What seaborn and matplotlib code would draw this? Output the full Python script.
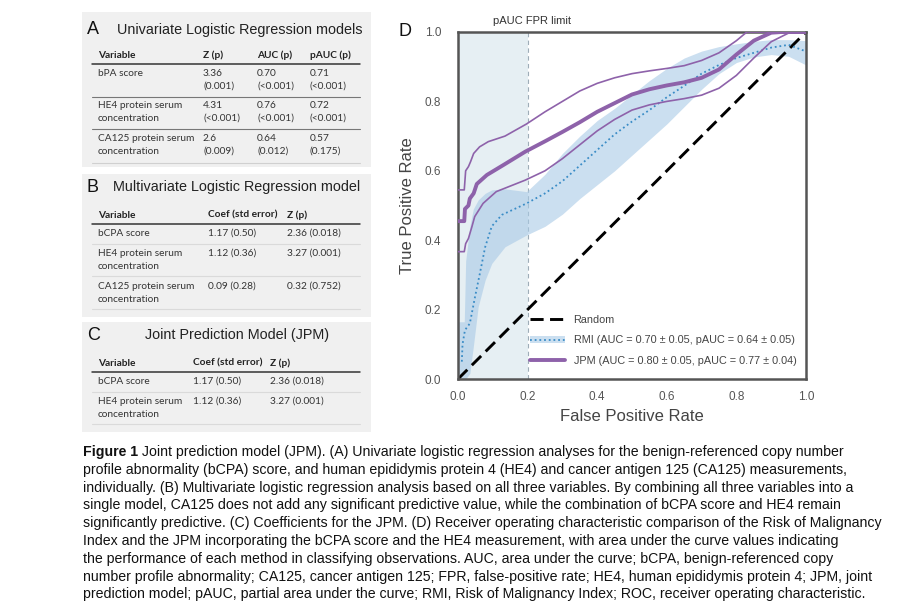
import matplotlib
matplotlib.use("Agg")
import matplotlib.pyplot as plt
from matplotlib.lines import Line2D
from matplotlib.patches import Patch, Rectangle
import seaborn as sns

# ---------------------------------------------------------------------------
# Data
# ---------------------------------------------------------------------------

# JPM mean ROC + its bounds
JPM_FPR = [0.0, 0.018, 0.02, 0.03, 0.034, 0.045, 0.054, 0.083, 0.131, 0.193, 0.25,
           0.3, 0.35, 0.4, 0.45, 0.5, 0.55, 0.6, 0.65, 0.7, 0.75, 0.8, 0.85, 0.9, 0.93, 1.0]
JPM_TPR = [0.455, 0.455, 0.49, 0.50, 0.52, 0.535, 0.562, 0.588, 0.617, 0.655, 0.685,
           0.712, 0.74, 0.77, 0.795, 0.82, 0.835, 0.846, 0.855, 0.868, 0.892, 0.935,
           0.975, 0.998, 1.0, 1.0]

JPM_HI_FPR = [0.0, 0.018, 0.022, 0.03, 0.036, 0.045, 0.062, 0.087, 0.135, 0.197, 0.25,
              0.3, 0.35, 0.4, 0.45, 0.5, 0.55, 0.6, 0.65, 0.7, 0.75, 0.8, 0.83, 1.0]
JPM_HI_TPR = [0.545, 0.545, 0.60, 0.612, 0.626, 0.65, 0.669, 0.684, 0.70, 0.735, 0.77,
              0.80, 0.83, 0.852, 0.868, 0.88, 0.888, 0.895, 0.903, 0.918, 0.94, 0.975,
              1.0, 1.0]

JPM_LO_FPR = [0.0, 0.018, 0.022, 0.03, 0.04, 0.048, 0.072, 0.11, 0.193, 0.25, 0.3,
              0.35, 0.4, 0.45, 0.5, 0.55, 0.6, 0.65, 0.7, 0.75, 0.8, 0.85, 0.9, 0.95, 1.0]
JPM_LO_TPR = [0.367, 0.367, 0.39, 0.405, 0.439, 0.468, 0.506, 0.54, 0.573, 0.60, 0.635,
              0.675, 0.715, 0.748, 0.775, 0.79, 0.80, 0.808, 0.818, 0.838, 0.875, 0.925,
              0.972, 0.997, 1.0]

# RMI mean ROC
RMI_FPR = [0.011, 0.013, 0.02, 0.034, 0.049, 0.063, 0.078, 0.097, 0.126, 0.197, 0.25,
           0.3, 0.35, 0.4, 0.45, 0.5, 0.55, 0.6, 0.65, 0.7, 0.75, 0.8, 0.85, 0.9, 0.95, 1.0]
RMI_TPR = [0.05, 0.10, 0.141, 0.16, 0.237, 0.305, 0.38, 0.44, 0.473, 0.506, 0.535,
           0.57, 0.615, 0.66, 0.705, 0.742, 0.775, 0.812, 0.845, 0.88, 0.905, 0.925,
           0.94, 0.955, 0.963, 0.944]

# RMI confidence band
BAND_FPR = [0.0, 0.018, 0.022, 0.034, 0.044, 0.058, 0.078, 0.097, 0.135, 0.197, 0.25,
            0.3, 0.35, 0.4, 0.45, 0.5, 0.55, 0.6, 0.65, 0.7, 0.75, 0.8, 0.85, 0.9, 0.95, 1.0]
BAND_HI = [0.165, 0.165, 0.34, 0.44, 0.49, 0.516, 0.535, 0.545, 0.548, 0.54, 0.59,
           0.65, 0.70, 0.745, 0.78, 0.82, 0.86, 0.895, 0.925, 0.945, 0.958, 0.966,
           0.973, 0.978, 0.978, 0.975]
BAND_LO = [0.0, 0.0, 0.0, 0.016, 0.093, 0.208, 0.285, 0.333, 0.381, 0.415, 0.44,
           0.475, 0.52, 0.56, 0.60, 0.645, 0.69, 0.735, 0.785, 0.835, 0.88, 0.912,
           0.928, 0.935, 0.93, 0.905]

RANDOM_FPR = [0.0, 1.0]
RANDOM_TPR = [0.0, 1.0]
PAUC_LIMIT = 0.2

LEGEND_LABELS = [
    "Random",
    "RMI (AUC = 0.70 \u00b1 0.05, pAUC = 0.64 \u00b1 0.05)",
    "JPM (AUC = 0.80 \u00b1 0.05, pAUC = 0.77 \u00b1 0.04)",
]

# Tables
TAB_A_TITLE = "Univariate Logistic Regression models"
TAB_A_HEADER = ["Variable", "Z (p)", "AUC (p)", "pAUC (p)"]
TAB_A_ROWS = [
    ["bPA score", "3.36\n(0.001)", "0.70\n(<0.001)", "0.71\n(<0.001)"],
    ["HE4 protein serum\nconcentration", "4.31\n(<0.001)", "0.76\n(<0.001)", "0.72\n(<0.001)"],
    ["CA125 protein serum\nconcentration", "2.6\n(0.009)", "0.64\n(0.012)", "0.57\n(0.175)"],
]

TAB_B_TITLE = "Multivariate Logistic Regression model"
TAB_B_HEADER = ["Variable", "Coef (std error)", "Z (p)"]
TAB_B_ROWS = [
    ["bCPA score", "1.17 (0.50)", "2.36 (0.018)"],
    ["HE4 protein serum\nconcentration", "1.12 (0.36)", "3.27 (0.001)"],
    ["CA125 protein serum\nconcentration", "0.09 (0.28)", "0.32 (0.752)"],
]

TAB_C_TITLE = "Joint Prediction Model (JPM)"
TAB_C_HEADER = ["Variable", "Coef (std error)", "Z (p)"]
TAB_C_ROWS = [
    ["bCPA score", "1.17 (0.50)", "2.36 (0.018)"],
    ["HE4 protein serum\nconcentration", "1.12 (0.36)", "3.27 (0.001)"],
]

CAPTION_LEAD = "Figure 1"
CAPTION_LINES = [
    " Joint prediction model (JPM). (A) Univariate logistic regression analyses for the benign-referenced copy number",
    "profile abnormality (bCPA) score, and human epididymis protein 4 (HE4) and cancer antigen 125 (CA125) measurements,",
    "individually. (B) Multivariate logistic regression analysis based on all three variables. By combining all three variables into a",
    "single model, CA125 does not add any significant predictive value, while the combination of bCPA score and HE4 remain",
    "significantly predictive. (C) Coefficients for the JPM. (D) Receiver operating characteristic comparison of the Risk of Malignancy",
    "Index and the JPM incorporating the bCPA score and the HE4 measurement, with area under the curve values indicating",
    "the performance of each method in classifying observations. AUC, area under the curve; bCPA, benign-referenced copy",
    "number profile abnormality; CA125, cancer antigen 125; FPR, false-positive rate; HE4, human epididymis protein 4; JPM, joint",
    "prediction model; pAUC, partial area under the curve; RMI, Risk of Malignancy Index; ROC, receiver operating characteristic.",
]

PURPLE = "#8e62aa"
BLUE = "#3a8cc6"
BAND = "#a9cae6"
SHADE = "#e6eff3"

sns.set_style("white")
plt.rcParams["font.family"] = ["Liberation Sans", "DejaVu Sans"]

W, H = 900, 612
fig = plt.figure(figsize=(9, 6.12), dpi=100)

# pixel-space overlay for tables / caption
bg = fig.add_axes([0, 0, 1, 1], zorder=0)
bg.set_xlim(0, W)
bg.set_ylim(H, 0)
bg.axis("off")

# ---------------------------------------------------------------------------
# Tables A, B, C
# ---------------------------------------------------------------------------

TABLE_FONT = ["Lato", "DejaVu Sans"]
TABLE_SIZE = 7.3


def draw_table(box, letter, letter_xy, title, title_xy, title_ha,
               header, rows, col_x, header_y, header_line, row_y, row_lines, line_cols):
    x0, y0, x1, y1 = box
    bg.add_patch(Rectangle((x0, y0), x1 - x0, y1 - y0, facecolor="#f0f0f0",
                           edgecolor="none", zorder=0))
    bg.text(*letter_xy, letter, fontsize=13, ha="left", va="center", color="#111")
    bg.text(*title_xy, title, fontsize=10.4, ha=title_ha, va="center", color="#222")
    for x, h in zip(col_x, header):
        bg.text(x, header_y, h, fontsize=TABLE_SIZE, fontweight="bold", ha="left",
                va="center", family=TABLE_FONT, color="#222")
    bg.plot([92, 360], [header_line, header_line], color="#333", lw=1.1)
    for ry, row in zip(row_y, rows):
        for x, cell in zip(col_x, row):
            bg.text(x, ry - 6, cell, fontsize=TABLE_SIZE, ha="left", va="top",
                    family=TABLE_FONT, color="#333", linespacing=1.55)
    for ly, lc in zip(row_lines, line_cols):
        bg.plot([92, 360], [ly, ly], color=lc, lw=0.8)


draw_table((82, 12, 371, 167), "A", (87, 30), TAB_A_TITLE, (117, 30), "left",
           TAB_A_HEADER, TAB_A_ROWS, [98, 203, 257, 310], 55, 63.5,
           [75, 107, 140], [97, 129, 163], ["#777", "#777", "#d0d0d0"])
draw_table((82, 174, 371, 317), "B", (87, 188), TAB_B_TITLE, (113, 187), "left",
           TAB_B_HEADER, TAB_B_ROWS, [98, 208, 287], 215, 224,
           [235, 255, 288], [243.5, 276, 308.5], ["#dadada"] * 3)
draw_table((82, 322, 371, 432), "C", (87, 336), TAB_C_TITLE, (237, 335), "center",
           TAB_C_HEADER, TAB_C_ROWS, [98, 193, 270], 363, 372,
           [383, 403], [392, 424], ["#dadada"] * 2)

# ---------------------------------------------------------------------------
# Panel D: ROC curves
# ---------------------------------------------------------------------------

ax = fig.add_axes([458 / W, 1 - 379 / H, 348 / W, 347 / H], zorder=2)
ax.axvspan(0, PAUC_LIMIT, color=SHADE, zorder=0, lw=0)
ax.axvline(PAUC_LIMIT, color="#9eadb8", lw=0.8, ls=(0, (4, 3)), zorder=1)

ax.fill_between(BAND_FPR, BAND_LO, BAND_HI, color=BAND, alpha=0.6, lw=0, zorder=1)

sns.lineplot(x=RANDOM_FPR, y=RANDOM_TPR, ax=ax, color="black", lw=2.1,
             ls=(0, (4.5, 2.2)), zorder=2)
sns.lineplot(x=RMI_FPR, y=RMI_TPR, ax=ax, color=BLUE, lw=1.3, ls=(0, (1, 1.6)),
             sort=False, estimator=None, zorder=3)
sns.lineplot(x=JPM_HI_FPR, y=JPM_HI_TPR, ax=ax, color=PURPLE, lw=1.2,
             sort=False, estimator=None, zorder=4)
sns.lineplot(x=JPM_LO_FPR, y=JPM_LO_TPR, ax=ax, color=PURPLE, lw=1.2,
             sort=False, estimator=None, zorder=4)
sns.lineplot(x=JPM_FPR, y=JPM_TPR, ax=ax, color=PURPLE, lw=2.8,
             sort=False, estimator=None, zorder=4)

ax.set_xlim(0, 1)
ax.set_ylim(0, 1)
ticks = [0.0, 0.2, 0.4, 0.6, 0.8, 1.0]
ax.set_xticks(ticks)
ax.set_yticks(ticks)
ax.set_xticklabels([f"{t:.1f}" for t in ticks])
ax.set_yticklabels([f"{t:.1f}" for t in ticks])
ax.tick_params(length=0, labelsize=8.5, labelcolor="#555")
ax.tick_params(axis="x", pad=9)
ax.tick_params(axis="y", pad=12)
ax.set_xlabel("False Positive Rate", fontsize=12, color="#444", labelpad=4)
ax.set_ylabel("True Positive Rate", fontsize=12, color="#444", labelpad=7)
for s in ax.spines.values():
    s.set_color("#555")
    s.set_linewidth(1.8)

handles = [
    Line2D([], [], color="black", lw=2.1, ls=(0, (4.5, 2.2))),
    (Patch(facecolor=BAND, alpha=0.6, lw=0),
     Line2D([], [], color=BLUE, lw=1.3, ls=(0, (1, 1.6)))),
    Line2D([], [], color=PURPLE, lw=2.8),
]
ax.legend(handles, LEGEND_LABELS, loc="lower right", frameon=False,
          fontsize=7.8, labelcolor="#444", handlelength=3.2,
          labelspacing=0.95, bbox_to_anchor=(1.0, 0.01))

bg.text(405, 32, "D", fontsize=13, ha="center", va="center", color="#111")
bg.text(532, 21, "pAUC FPR limit", fontsize=8, ha="center", va="center", color="#333")

# ---------------------------------------------------------------------------
# Caption
# ---------------------------------------------------------------------------

renderer = fig.canvas.get_renderer()
CAP_SIZE = 10.2
lead = bg.text(83, 452, CAPTION_LEAD, fontsize=CAP_SIZE, fontweight="bold",
               ha="left", va="center", color="#111")
lead_w = lead.get_window_extent(renderer).width
for i, line in enumerate(CAPTION_LINES):
    x = 83 + lead_w if i == 0 else 83
    bg.text(x, 452 + i * 17.8, line, fontsize=CAP_SIZE, ha="left", va="center",
            color="#111")

fig.savefig("out.png", dpi=100)
